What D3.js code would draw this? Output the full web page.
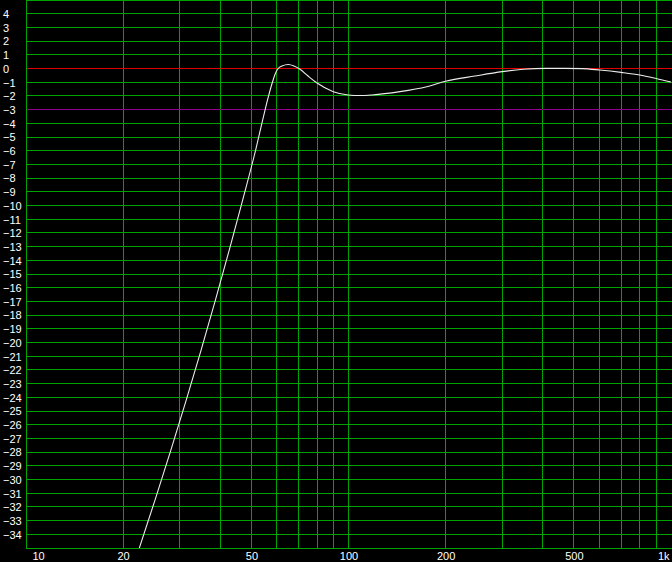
<!DOCTYPE html>
<html>
<head>
<meta charset="utf-8">
<script src="https://cdn.jsdelivr.net/npm/d3@7"></script>
<style>
  html, body { margin: 0; padding: 0; background: #000; }
  svg { display: block; }
</style>
</head>
<body>
<svg id="chart" width="672" height="562"></svg>
<script>
// ---- data ----
const freqHz = [22.46, 25.12, 28.13, 31.39, 34.91, 38.66, 42.68, 46.97, 51.53, 53.74, 55.10, 56.49, 57.99, 59.25, 60.37, 62.20, 65.08, 67.76, 70.73, 74.89, 79.66, 89.72, 99.86, 108.6, 118.3, 144.4, 174.8, 200, 246.7, 300, 347.6, 406.7, 469.2, 530, 600, 700, 800, 900, 1000];
const levelDb = [-35.0, -31.50, -27.85, -24.20, -20.55, -16.90, -13.25, -9.60, -5.95, -4.12, -3.03, -2.01, -1.06, -0.40, -0.04, 0.18, 0.29, 0.18, -0.06, -0.55, -1.04, -1.69, -1.93, -1.97, -1.93, -1.69, -1.33, -0.93, -0.55, -0.23, -0.06, 0.01, 0.01, -0.01, -0.11, -0.28, -0.47, -0.73, -0.99];
const xTickValues = [10, 20, 50, 100, 200, 500, 1000];
const xTickLabels = ["10", "20", "50", "100", "200", "500", "1k"];
const xGridValues = [10, 20, 30, 40, 50, 60, 70, 80, 90, 100, 200, 300, 400, 500, 600, 700, 800, 900];
const yTickValues = [4, 3, 2, 1, 0, -1, -2, -3, -4, -5, -6, -7, -8, -9, -10, -11, -12, -13, -14, -15, -16, -17, -18, -19, -20, -21, -22, -23, -24, -25, -26, -27, -28, -29, -30, -31, -32, -33, -34];
const yGridValues = d3.range(5, -36, -1);
const refDb = [0, -3];
const refColors = ["#e00000", "#8c008c"];

// ---- layout ----
const W = 672, H = 562;
const plotL = 26, plotR = 671, plotT = 0, plotB = 548;
const svg = d3.select("#chart");
svg.append("rect").attr("width", W).attr("height", H).attr("fill", "#000");

const x = d3.scaleLog().domain([10, 1000]).range([plotL, plotR]);
const y = d3.scaleLinear().domain([5, -35]).range([plotT, plotB]);

const gridColor = "#00a400";
const snap = v => Math.floor(v) + 0.5;

const gridG = svg.append("g").attr("class", "grid");
// horizontal grid
gridG.selectAll("line.h").data(yGridValues).join("line")
  .attr("class", "h")
  .attr("x1", plotL).attr("x2", W)
  .attr("y1", d => snap(y(d))).attr("y2", d => snap(y(d)))
  .style("stroke", gridColor).style("stroke-width", "1px");

// vertical grid
gridG.selectAll("line.v").data(xGridValues).join("line")
  .attr("class", "v")
  .attr("x1", d => snap(x(d))).attr("x2", d => snap(x(d)))
  .attr("y1", plotT).attr("y2", snap(plotB) + 0.5)
  .style("stroke", gridColor).style("stroke-width", "1px");

// reference lines
const refG = svg.append("g").attr("class", "ref");
refG.selectAll("line").data(refDb).join("line")
  .attr("x1", plotL + 1).attr("x2", W)
  .attr("y1", d => snap(y(d))).attr("y2", d => snap(y(d)))
  .style("stroke", (d, i) => refColors[i]).style("stroke-width", "1px");

// curve
svg.append("clipPath").attr("id", "plotclip").append("rect")
  .attr("x", plotL).attr("y", plotT).attr("width", W - plotL).attr("height", plotB - plotT);
const pts = freqHz.map((f, i) => [f, levelDb[i]]);
const line = d3.line().x(d => x(d[0])).y(d => y(d[1])).curve(d3.curveMonotoneX);
svg.append("path").datum(pts)
  .attr("clip-path", "url(#plotclip)")
  .attr("d", line)
  .style("fill", "none").style("stroke", "#ececec").style("stroke-width", "1.1px");

// y labels
const yAxis = d3.axisLeft(y).tickValues(yTickValues).tickSize(0).tickFormat(d3.format("d"));
const gy = svg.append("g").call(yAxis);
gy.select(".domain").remove();
gy.selectAll(".tick line").remove();
gy.selectAll("text")
  .attr("x", 3).attr("dy", "0.35em")
  .attr("text-anchor", "start")
  .attr("fill", "#fff")
  .style("font-family", "'Liberation Sans', Arial, sans-serif")
  .style("font-size", "11px");

// x labels
const xAxis = d3.axisBottom(x).tickValues(xTickValues).tickSize(0)
  .tickFormat((d, i) => xTickLabels[i]);
const gx = svg.append("g").attr("transform", `translate(0,${plotB})`).call(xAxis);
gx.select(".domain").remove();
gx.selectAll(".tick line").remove();
gx.selectAll("text")
  .attr("y", 12).attr("dy", 0)
  .attr("fill", "#fff")
  .style("font-family", "'Liberation Sans', Arial, sans-serif")
  .style("font-size", "11px")
  .attr("text-anchor", (d, i) => i === 0 ? "start" : (i === xTickValues.length - 1 ? "end" : "middle"))
  .attr("dx", (d, i) => i === 0 ? 6 : (i === xTickValues.length - 1 ? -2 : 0));
</script>
</body>
</html>
